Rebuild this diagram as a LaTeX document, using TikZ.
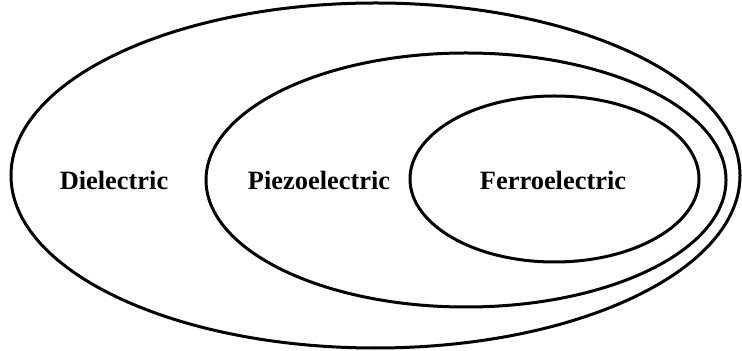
\documentclass[tikz,border=0pt]{standalone}
\usepackage{fontspec}
\setmainfont{Liberation Serif}
\usetikzlibrary{shapes.geometric}

\begin{document}
\begin{tikzpicture}[
    x=1pt, y=1pt,
    setbox/.style={draw, ellipse, line width=1.5pt, inner sep=0pt},
    setlabel/.style={font=\fontsize{13.2}{15}\selectfont\bfseries, inner sep=0pt}
  ]
    \useasboundingbox (0,0) rectangle (371,-175.5);
    % nested sets
    \node[setbox, minimum width=364.5pt, minimum height=172.5pt] (dielectric) at (187.75,-87.75) {};
    \node[setbox, minimum width=260pt, minimum height=127pt] (piezo) at (233,-90) {};
    \node[setbox, minimum width=144.5pt, minimum height=83pt] (ferro) at (277.25,-89.5) {};

    \node[setlabel] (dielectriclabel) at (57,-90) {Dielectric};
    \node[setlabel] (piezolabel) at (159.5,-90) {Piezoelectric};
    \node[setlabel] (ferrolabel) at (276.5,-90) {Ferroelectric};
  \end{tikzpicture}
\end{document}
